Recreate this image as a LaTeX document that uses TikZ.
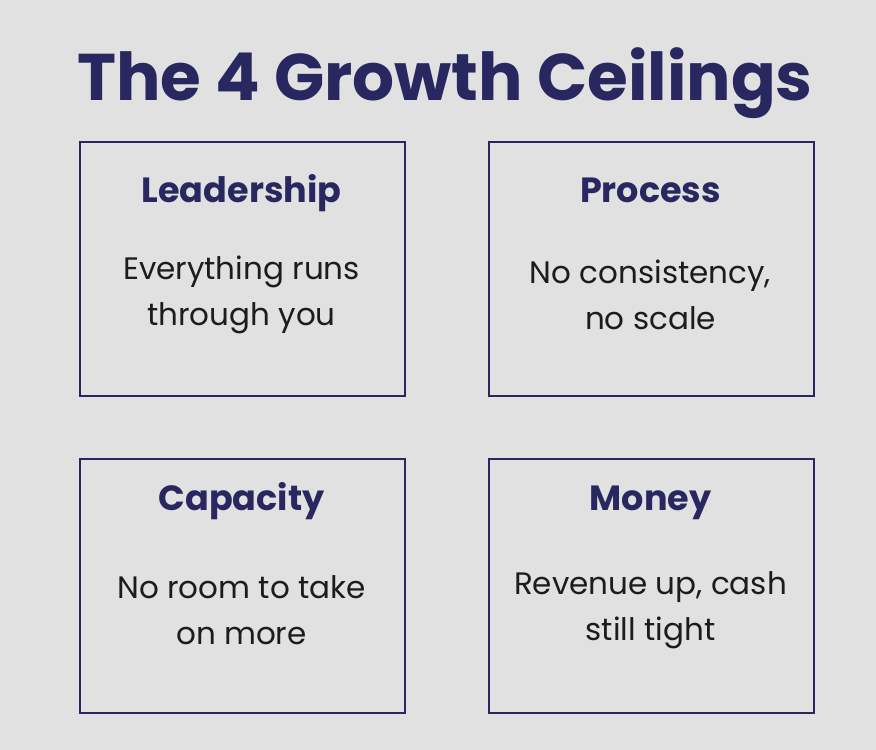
\documentclass[tikz,border=0pt]{standalone}
\usepackage{fontspec}
\setmainfont{Poppins}
\definecolor{bg}{HTML}{E1E1E1}
\definecolor{navy}{HTML}{28275F}
\definecolor{ink}{HTML}{1C1C1C}
\begin{document}
\begin{tikzpicture}[x=1pt,y=1pt,
  card/.style={draw=navy,line width=1.6pt,minimum width=325pt,minimum height=254pt,anchor=north west},
  head/.style={text=navy,anchor=base,font=\bfseries\fontsize{35}{40}\selectfont},
  body/.style={text=ink,align=center,font=\fontsize{31}{46}\selectfont}]
\fill[bg] (0,0) rectangle (876,750);
\useasboundingbox (0,0) rectangle (876,750);
\node[text=navy,font=\bfseries\fontsize{66}{72}\selectfont] (title) at (445,667) {The 4 Growth Ceilings};
\node[card] (b1) at (79,609) {};
\node[card] (b2) at (488,609) {};
\node[card] (b3) at (79,292) {};
\node[card] (b4) at (488,292) {};
\node[head] (h1) at (241.5,547) {Leadership};
\node[head] (h2) at (650.5,547) {Process};
\node[head] (h3) at (241.5,239) {Capacity};
\node[head] (h4) at (650.5,239) {Money};
\node[body] (t1) at (241.5,455) {Everything runs\\through you};
\node[body] (t2) at (650.5,455) {No consistency,\\no scale};
\node[body] (t3) at (241.5,140) {No room to take\\on more};
\node[body] (t4) at (650.5,140) {Revenue up, cash\\still tight};
\end{tikzpicture}
\end{document}
